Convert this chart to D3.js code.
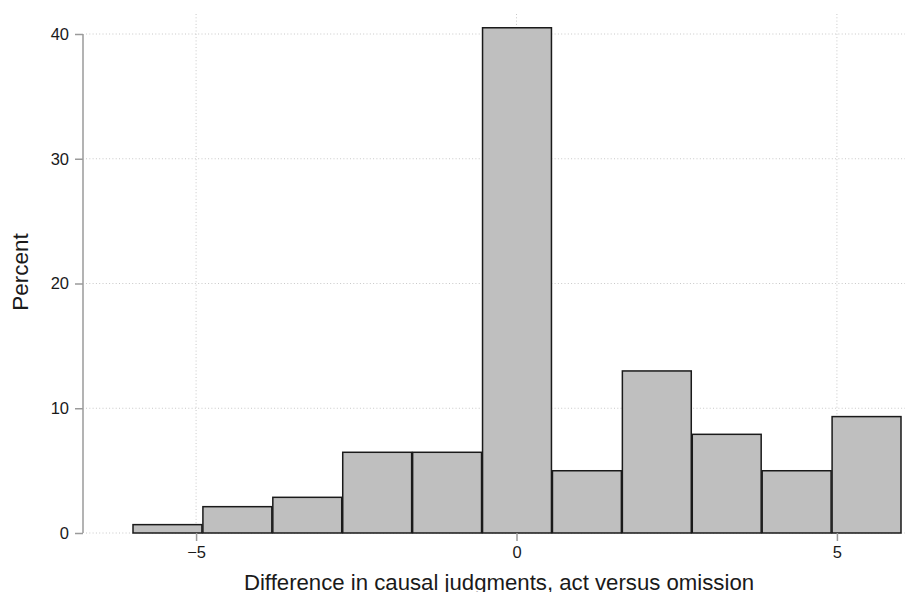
<!DOCTYPE html>
<html>
<head>
<meta charset="utf-8">
<script src="https://cdn.jsdelivr.net/npm/d3@7"></script>
<style>
  html, body { margin: 0; padding: 0; background: #fff; }
  svg { display: block; font-family: "Liberation Sans", Arial, Helvetica, sans-serif; }
</style>
</head>
<body>
<svg id="chart" width="905" height="592"></svg>
<script>
// Data
const binStart = -6;
const binEnd = 6;
const percents = [0.67, 2.11, 2.86, 6.47, 6.47, 40.5, 4.99, 12.99, 7.91, 4.99, 9.33];
const xTicks = [-5, 0, 5];
const yTicks = [0, 10, 20, 30, 40];
const xTitle = "Difference in causal judgments, act versus omission";
const yTitle = "Percent";

const svg = d3.select("#chart");
const W = 905, H = 592;

const x = d3.scaleLinear().domain([binStart, binEnd]).range([132, 901]);
const y = d3.scaleLinear().domain([0, 40]).range([533, 34]);
const binW = (binEnd - binStart) / percents.length;
const bins = percents.map((p, i) => ({ x0: binStart + i * binW, x1: binStart + (i + 1) * binW, p }));

const grid = svg.append("g");
grid.selectAll("line.h").data(yTicks).enter().append("line")
  .attr("x1", 86).attr("x2", W)
  .attr("y1", d => y(d)).attr("y2", d => y(d))
  .attr("stroke", "#c8c8c8").attr("stroke-width", 1)
  .attr("stroke-dasharray", "1,2.3");
grid.selectAll("line.v").data(xTicks).enter().append("line")
  .attr("x1", d => x(d)).attr("x2", d => x(d))
  .attr("y1", 14).attr("y2", 533)
  .attr("stroke", "#c8c8c8").attr("stroke-width", 1)
  .attr("stroke-dasharray", "1,2.3");

// bars
svg.append("g").selectAll("rect").data(bins).enter().append("rect")
  .attr("x", d => x(d.x0) + 1)
  .attr("width", d => x(d.x1) - x(d.x0) - 1)
  .attr("y", d => y(d.p))
  .attr("height", d => y(0) - y(d.p))
  .attr("fill", "#bfbfbf")
  .attr("stroke", "#1a1a1a")
  .attr("stroke-width", 1.5);

// y axis
const yAxis = svg.append("g").attr("transform", "translate(83,0)")
  .call(d3.axisLeft(y).tickValues(yTicks).tickSize(8).tickPadding(6).tickFormat(d3.format("d")));
yAxis.select(".domain").attr("stroke", "#9a9a9a").attr("stroke-width", 1.5).attr("d", `M0,${y(40)}V${y(0)}`);
yAxis.selectAll(".tick line").attr("stroke", "#9a9a9a").attr("stroke-width", 1.5);
yAxis.selectAll(".tick text").attr("font-size", 16.5).attr("fill", "#1a1a1a")
  .attr("font-family", "Liberation Sans, Arial, sans-serif");

// x axis (ticks only)
const xAxis = svg.append("g").attr("transform", "translate(0,533)")
  .call(d3.axisBottom(x).tickValues(xTicks).tickSize(8).tickPadding(5)
    .tickFormat(d => d < 0 ? "\u2212" + Math.abs(d) : String(d)));
xAxis.select(".domain").remove();
xAxis.selectAll(".tick line").attr("stroke", "#9a9a9a").attr("stroke-width", 1.5);
xAxis.selectAll(".tick text").attr("font-size", 16.5).attr("fill", "#1a1a1a")
  .attr("font-family", "Liberation Sans, Arial, sans-serif");

// titles
svg.append("text")
  .attr("x", 499)
  .attr("y", 589.5)
  .attr("text-anchor", "middle")
  .attr("font-size", 22.2)
  .attr("fill", "#1a1a1a")
  .text(xTitle);

svg.append("text")
  .attr("transform", `translate(27.5,272) rotate(-90)`)
  .attr("text-anchor", "middle")
  .attr("font-size", 22.5)
  .attr("fill", "#1a1a1a")
  .text(yTitle);
</script>
</body>
</html>
